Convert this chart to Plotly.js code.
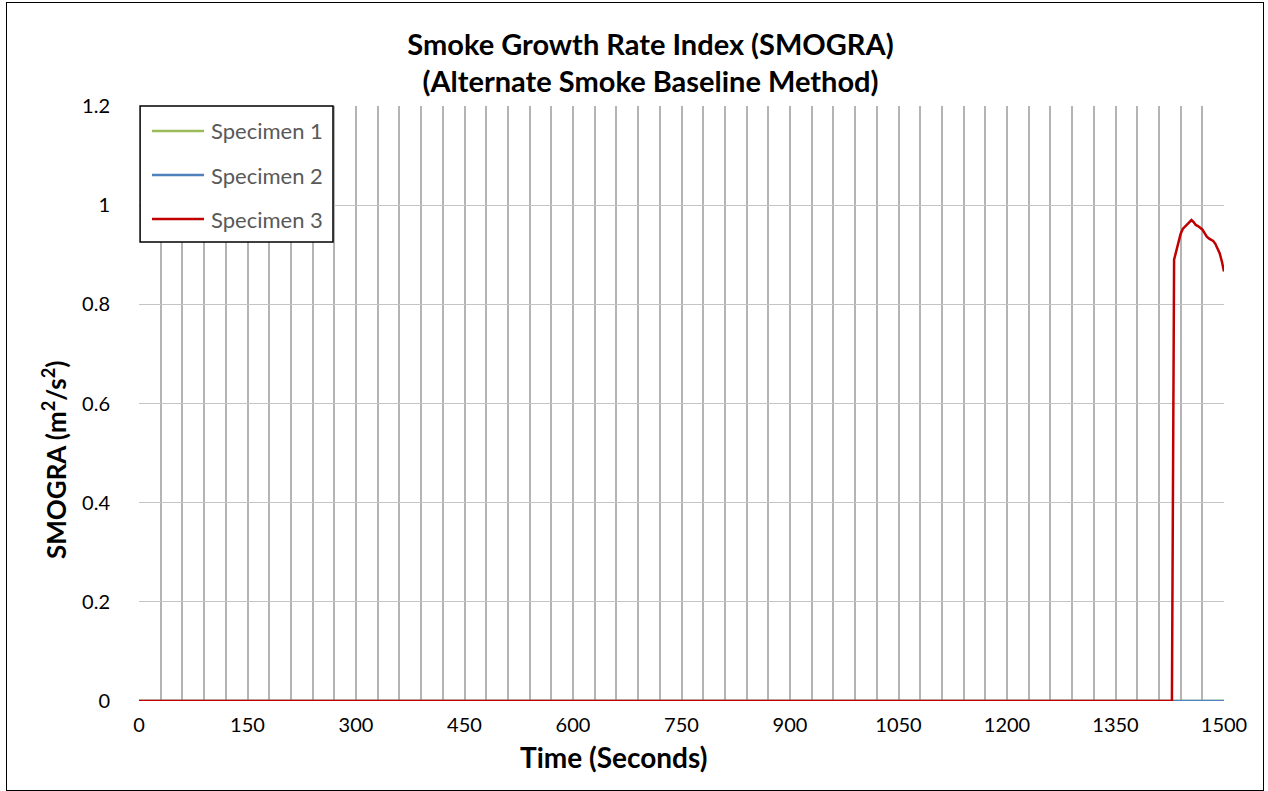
<!DOCTYPE html>
<html>
<head>
<meta charset="utf-8">
<script src="https://cdn.plot.ly/plotly-3.0.1.min.js"></script>
<style>
  html, body { margin: 0; padding: 0; background: #fff; }
  #wrap { position: relative; width: 1268px; height: 791px; overflow: hidden; }
  #chart { width: 1268px; height: 791px; }
  #frame { position: absolute; left: 6px; top: 2px; width: 1256px; height: 787px;
           border: 1.5px solid #000; pointer-events: none; }
</style>
</head>
<body>
<div id="wrap"><div id="chart"></div><div id="frame"></div></div>
<script>
// Data
var seriesNames = ["Specimen 1", "Specimen 2", "Specimen 3"];
var spec1Time = [0, 1500];
var spec1Value = [0, 0];
var spec2Time = [0, 1500];
var spec2Value = [0, 0];
var spec3Time = [0, 1428, 1431, 1434, 1437, 1440, 1443, 1446, 1449, 1452, 1455, 1458, 1461,
                 1464, 1467, 1470, 1473, 1476, 1479, 1482, 1485, 1488, 1491, 1494, 1497, 1500];
var spec3Value = [0, 0, 0.890, 0.908, 0.928, 0.942, 0.952, 0.957, 0.961, 0.965, 0.970, 0.966, 0.960,
                  0.958, 0.955, 0.951, 0.944, 0.937, 0.933, 0.931, 0.928, 0.922, 0.913, 0.903, 0.887, 0.866];
var xTickVals = [0, 150, 300, 450, 600, 750, 900, 1050, 1200, 1350, 1500];
var yTickVals = [0, 0.2, 0.4, 0.6, 0.8, 1, 1.2];

var colors = ["#9BBB59", "#4F81BD", "#C00000"];
var times = [spec1Time, spec2Time, spec3Time];
var values = [spec1Value, spec2Value, spec3Value];

var traces = seriesNames.map(function (n, i) {
  return {
    x: times[i], y: values[i], name: n, type: "scatter", mode: "lines",
    line: { color: colors[i], width: 2.5 }, showlegend: false
  };
});

var font = "Lato, Open Sans, DejaVu Sans, sans-serif";

// Custom legend (box, line samples, labels) in paper coordinates
var legBox = { x0: 0.001, x1: 0.1788, y0: 0.7714, y1: 1.0 };
var legRowsY = [0.9580, 0.8840, 0.8100];
var shapes = [{
  type: "rect", xref: "paper", yref: "paper", layer: "above",
  x0: legBox.x0, x1: legBox.x1, y0: legBox.y0, y1: legBox.y1,
  fillcolor: "#fff", line: { color: "#000", width: 1.5 }
}];
var annotations = [];
seriesNames.forEach(function (n, i) {
  shapes.push({
    type: "line", xref: "paper", yref: "paper", layer: "above",
    x0: 0.0120, x1: 0.0599, y0: legRowsY[i], y1: legRowsY[i],
    line: { color: colors[i], width: 2.5 }
  });
  annotations.push({
    xref: "paper", yref: "paper", x: 0.0645, y: legRowsY[i],
    xanchor: "left", yanchor: "middle", showarrow: false, text: n,
    font: { family: font, size: 22, color: "#595959" }
  });
});
// Axis titles
annotations.push({
  xref: "paper", yref: "paper", x: 0.437, y: -0.094, xanchor: "center", yanchor: "middle",
  showarrow: false, text: "<b>Time (Seconds)</b>", font: { family: font, size: 28, color: "#000" }
});
annotations.push({
  xref: "paper", yref: "paper", x: -0.0783, y: 0.405, xanchor: "center", yanchor: "middle",
  textangle: -90, showarrow: false, text: "<b>SMOGRA (m<sup>2</sup>/s<sup>2</sup>)</b>",
  font: { family: font, size: 26, color: "#000" }
});

var layout = {
  width: 1268, height: 791,
  margin: { l: 139, r: 44, t: 106, b: 90 },
  paper_bgcolor: "#fff", plot_bgcolor: "#fff",
  font: { family: font, color: "#000", size: 20 },
  title: {
    text: "<b>Smoke Growth Rate Index (SMOGRA)</b><br><b>(Alternate Smoke Baseline Method)</b>",
    font: { family: font, size: 29, color: "#000" },
    x: 0.513, xanchor: "center", y: 0.931, yanchor: "middle"
  },
  xaxis: {
    range: [0, 1500], tickmode: "array", tickvals: xTickVals,
    showgrid: true, gridcolor: "#B4B4B4", gridwidth: 2,
    minor: { dtick: 30, tick0: 0, showgrid: true, gridcolor: "#B4B4B4", gridwidth: 2 },
    zeroline: false, showline: false, ticks: "outside", ticklen: 6, tickcolor: "rgba(0,0,0,0)",
    tickfont: { family: font, size: 20, color: "#000" }
  },
  yaxis: {
    range: [0, 1.2], tickmode: "array", tickvals: yTickVals,
    showgrid: true, gridcolor: "#C4C4C4", gridwidth: 1,
    zeroline: false, showline: false, ticks: "outside", ticklen: 24, tickcolor: "rgba(0,0,0,0)",
    tickfont: { family: font, size: 20, color: "#000" }
  },
  showlegend: false,
  shapes: shapes,
  annotations: annotations
};

Plotly.newPlot("chart", traces, layout, { displayModeBar: false, staticPlot: true });
</script>
</body>
</html>
